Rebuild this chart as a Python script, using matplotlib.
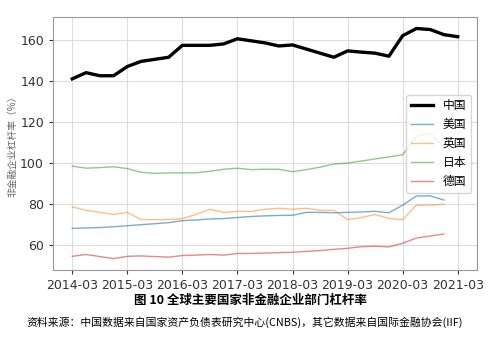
import matplotlib.pyplot as plt

plt.rcParams['font.family'] = ['Noto Sans CJK SC', 'DejaVu Sans']

# quarterly labels 2014-03 .. 2021-03
quarters = [f"{y}-{m:02d}" for y in range(2014, 2022) for m in (3, 6, 9, 12)][:29]

china = [141, 144, 142.5, 142.5, 147, 149.5, 150.5, 151.5,
         157.3, 157.3, 157.3, 158, 160.5, 159.5, 158.5, 157,
         157.5, 155.5, 153.5, 151.5, 154.6, 154, 153.5, 152,
         162, 165.5, 165, 162.5, 161.5]
usa = [68.2, 68.4, 68.6, 69, 69.5, 70, 70.5, 71,
       72, 72.3, 72.8, 73, 73.5, 74, 74.3, 74.5,
       74.6, 76, 76, 75.8, 76, 76.2, 76.5, 75.8,
       79.5, 84, 84, 82]
uk = [78.7, 77, 76, 75, 76, 72.5, 72.5, 72.5,
      73, 75, 77.5, 76, 76.5, 76.5, 77.5, 78,
      77.5, 78, 77, 77, 72.5, 73.5, 75, 73,
      72.5, 79.5, 79.5, 80]
japan = [98.5, 97.5, 97.8, 98.2, 97.3, 95.5, 95, 95.2,
         95.2, 95.3, 96, 97, 97.5, 96.8, 97, 97,
         95.8, 96.8, 98, 99.5, 100, 101, 102, 103,
         104, 113, 114.5, 108]
germany = [54.6, 55.5, 54.5, 53.5, 54.6, 54.8, 54.5, 54.2,
           55, 55.2, 55.5, 55.2, 56, 56, 56.2, 56.4,
           56.6, 57, 57.4, 58, 58.5, 59.3, 59.5, 59.2,
           61, 63.5, 64.5, 65.5]

series = [("中国", china, "black", 2.4, 1.0),
          ("美国", usa, "#1f77b4", 1.0, 0.6),
          ("英国", uk, "#ff7f0e", 1.0, 0.5),
          ("日本", japan, "#2ca02c", 1.0, 0.55),
          ("德国", germany, "#d62728", 1.0, 0.55)]

fig = plt.figure(figsize=(5.0, 3.54), dpi=100)
ax = fig.add_axes([0.106, 0.237, 0.848, 0.715])

for name, vals, color, lw, alpha in series:
    ax.plot(range(len(vals)), vals, color=color, lw=lw, alpha=alpha, label=name)

ticks = list(range(0, 29, 4))
ax.set_xticks(ticks)
ax.set_xticklabels([quarters[i] for i in ticks])
ax.set_yticks([60, 80, 100, 120, 140, 160])
ax.tick_params(labelsize=9, colors='#333333', length=3)
for lbl in ax.get_xticklabels() + ax.get_yticklabels():
    lbl.set_family('DejaVu Sans')
ax.grid(True, color='#dddddd', lw=0.8)
for sp in ax.spines.values():
    sp.set_color('#999999')

ax.set_ylabel("非金融企业杠杆率（%）", fontsize=7, color='#666666', labelpad=2)
ax.legend(loc='center right', fontsize=8.5, handlelength=1.9, framealpha=0.8)

fig.text(0.5, 0.152, "图 10 全球主要国家非金融企业部门杠杆率", ha='center', va='center',
         fontsize=9, fontweight='bold')
fig.text(0.49, 0.09, "资料来源：中国数据来自国家资产负债表研究中心(CNBS)，其它数据来自国际金融协会(IIF)",
         ha='center', va='center', fontsize=7.8)

fig.savefig('out.png', dpi=100)
